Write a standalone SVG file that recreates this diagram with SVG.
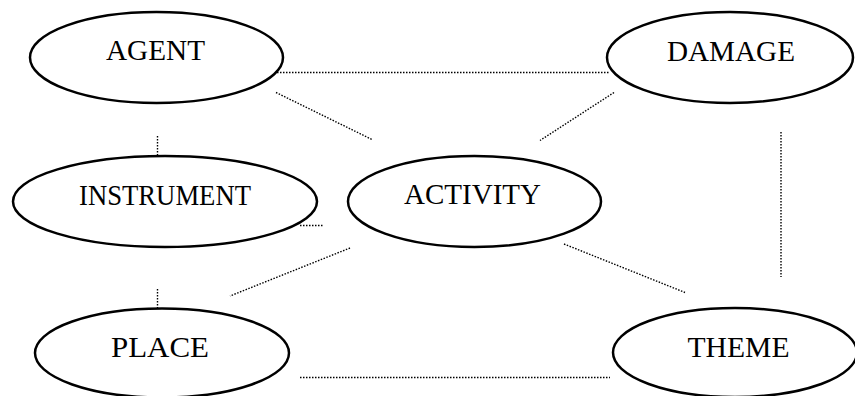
<svg xmlns="http://www.w3.org/2000/svg" width="855" height="396" viewBox="0 0 855 396">
  <style>
    .node ellipse { fill: #ffffff; stroke: #000000; stroke-width: 2.5; }
    .node text { font-family: "Liberation Serif", "Times New Roman", serif; font-size: 30px; fill: #000000; text-anchor: middle; }
    .link { stroke: #000000; stroke-width: 1.4; stroke-dasharray: 1.5 1.5; fill: none; }
  </style>
  <rect width="855" height="396" fill="#ffffff"/>

  <!-- dotted relations between roles -->
  <g id="connectors">
    <line class="link" x1="277" y1="72.5" x2="610" y2="72.5"/>
    <line class="link" x1="276" y1="92.5" x2="373" y2="140"/>
    <line class="link" x1="157.5" y1="136" x2="157.5" y2="155"/>
    <line class="link" x1="614" y1="92.5" x2="540" y2="140.5"/>
    <line class="link" x1="781" y1="132" x2="781" y2="277"/>
    <line class="link" x1="300" y1="225.5" x2="323" y2="225.5"/>
    <line class="link" x1="350" y1="248" x2="230" y2="296"/>
    <line class="link" x1="157.5" y1="289" x2="157.5" y2="309"/>
    <line class="link" x1="564" y1="244" x2="685" y2="292.5"/>
    <line class="link" x1="300" y1="377.5" x2="610" y2="377.5"/>
  </g>

  <g id="agent" class="node">
    <ellipse cx="156.5" cy="57.5" rx="126.5" ry="45.5"/>
    <text x="155.5" y="60" textLength="99" lengthAdjust="spacingAndGlyphs">AGENT</text>
  </g>
  <g id="damage" class="node">
    <ellipse cx="730" cy="57.5" rx="123" ry="45.5"/>
    <text x="731" y="61" textLength="128" lengthAdjust="spacingAndGlyphs">DAMAGE</text>
  </g>
  <g id="instrument" class="node">
    <ellipse cx="165" cy="201.5" rx="152" ry="45.5"/>
    <text x="165" y="205" textLength="172" lengthAdjust="spacingAndGlyphs">INSTRUMENT</text>
  </g>
  <g id="activity" class="node">
    <ellipse cx="474.5" cy="201.5" rx="126.5" ry="45.5"/>
    <text x="472.5" y="204" textLength="137" lengthAdjust="spacingAndGlyphs">ACTIVITY</text>
  </g>
  <g id="place" class="node">
    <ellipse cx="162" cy="353" rx="127" ry="44.5"/>
    <text x="160" y="357" textLength="98" lengthAdjust="spacingAndGlyphs">PLACE</text>
  </g>
  <g id="theme" class="node">
    <ellipse cx="735" cy="352.5" rx="122" ry="44.5"/>
    <text x="738.5" y="357" textLength="102" lengthAdjust="spacingAndGlyphs">THEME</text>
  </g>
</svg>
